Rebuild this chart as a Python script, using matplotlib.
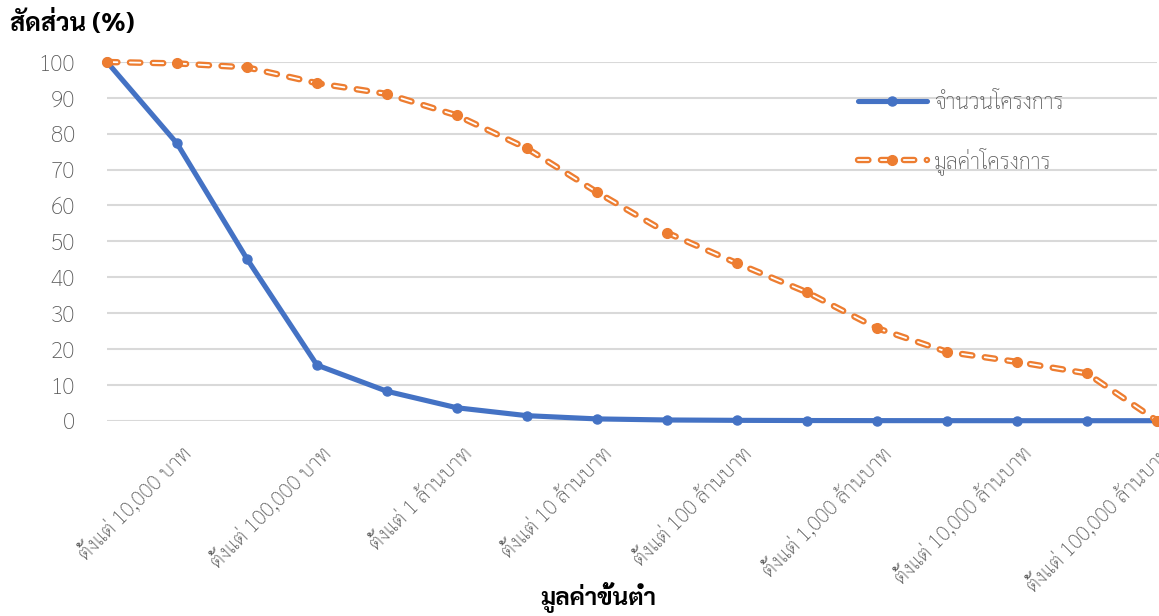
import matplotlib
matplotlib.use("Agg")
import matplotlib.pyplot as plt
from matplotlib import patheffects as pe
from matplotlib.transforms import ScaledTranslation

# ---------------- data ----------------
x_index = list(range(16))
tick_positions = [1, 3, 5, 7, 9, 11, 13, 15]
tick_labels = [
    "ตั้งแต่ 10,000 บาท",
    "ตั้งแต่ 100,000 บาท",
    "ตั้งแต่ 1 ล้านบาท",
    "ตั้งแต่ 10 ล้านบาท",
    "ตั้งแต่ 100 ล้านบาท",
    "ตั้งแต่ 1,000 ล้านบาท",
    "ตั้งแต่ 10,000 ล้านบาท",
    "ตั้งแต่ 100,000 ล้านบาท",
]
project_count = [100, 77.3, 45.1, 15.5, 8.2, 3.6, 1.4, 0.5, 0.2, 0.1, 0.05, 0.02, 0.01, 0, 0, 0]
project_value = [100, 99.6, 98.5, 94.1, 91.1, 85.1, 75.9, 63.7, 52.4, 43.9, 35.8, 25.8, 19.2, 16.4, 13.2, 0]
series_names = ["จำนวนโครงการ", "มูลค่าโครงการ"]
y_ticks = [0, 10, 20, 30, 40, 50, 60, 70, 80, 90, 100]
y_title = "สัดส่วน (%)"
x_title = "มูลค่าขั้นต่ำ"

# ---------------- style ----------------
plt.rcParams["font.family"] = ["Sarabun", "DejaVu Sans"]
plt.rcParams["lines.scale_dashes"] = False

BLUE = "#4472C4"
ORANGE = "#ED7D31"
GREY = "#595959"
GRID = "#D9D9D9"

W, H = 1159, 616
fig = plt.figure(figsize=(W / 100, H / 100), dpi=100)
ax = fig.add_axes([107 / W, 1 - 420.7 / H, (1157 - 107) / W, (420.7 - 62) / H])

ax.set_xlim(0, 15)
ax.set_ylim(0, 100)
for s in ax.spines.values():
    s.set_visible(False)
ax.set_yticks(y_ticks)
ax.yaxis.grid(True, color=GRID, linewidth=1.5)
ax.set_axisbelow(True)
ax.tick_params(axis="y", length=0, pad=23, labelsize=16.5, labelcolor=GREY)
ax.tick_params(axis="x", length=0, pad=6, labelsize=15, labelcolor=GREY)
for lbl in ax.get_yticklabels():
    lbl.set_fontweight("light")

ax.set_xticks(tick_positions)
ax.set_xticklabels(tick_labels, rotation=45, ha="right", va="center", rotation_mode="anchor",
                   fontweight="light")
offset = ScaledTranslation(12 / 100, -22 / 100, fig.dpi_scale_trans)
for lbl in ax.get_xticklabels():
    lbl.set_transform(lbl.get_transform() + offset)

# blue series
h_count, = ax.plot(x_index, project_count, color=BLUE, linewidth=3.7, marker="o", markersize=6.5,
                   solid_capstyle="round", clip_on=False, zorder=3)

# orange dashed series with white inner stripe, markers drawn separately
h_val_line, = ax.plot(x_index, project_value, color="white", linewidth=1.3, dashes=(7.5, 9.0),
                      dash_capstyle="round", clip_on=False, zorder=4,
                      path_effects=[pe.Stroke(linewidth=4.6, foreground=ORANGE), pe.Normal()])
h_val_mark, = ax.plot(x_index, project_value, linestyle="none", marker="o", markersize=7,
                      markerfacecolor=ORANGE, markeredgecolor=ORANGE, clip_on=False, zorder=5)

leg = ax.legend([h_count, (h_val_line, h_val_mark)], series_names,
                loc="upper left",
                bbox_to_anchor=((849 - 107) / (1157 - 107), 1 - (84 - 62) / (420.7 - 62)),
                frameon=False, fontsize=15.5, handlelength=3.2, handletextpad=0.35,
                labelspacing=1.55, borderaxespad=0)
for t in leg.get_texts():
    t.set_color(GREY)
    t.set_fontweight("light")

fig.text(10 / W, 1 - 24 / H, y_title, fontsize=18.3, fontweight="bold", color="black",
         ha="left", va="center")
fig.text(598 / W, 1 - 598 / H, x_title, fontsize=17.5, fontweight="bold", color="black",
         ha="center", va="center")

fig.savefig("out.png", dpi=100)
